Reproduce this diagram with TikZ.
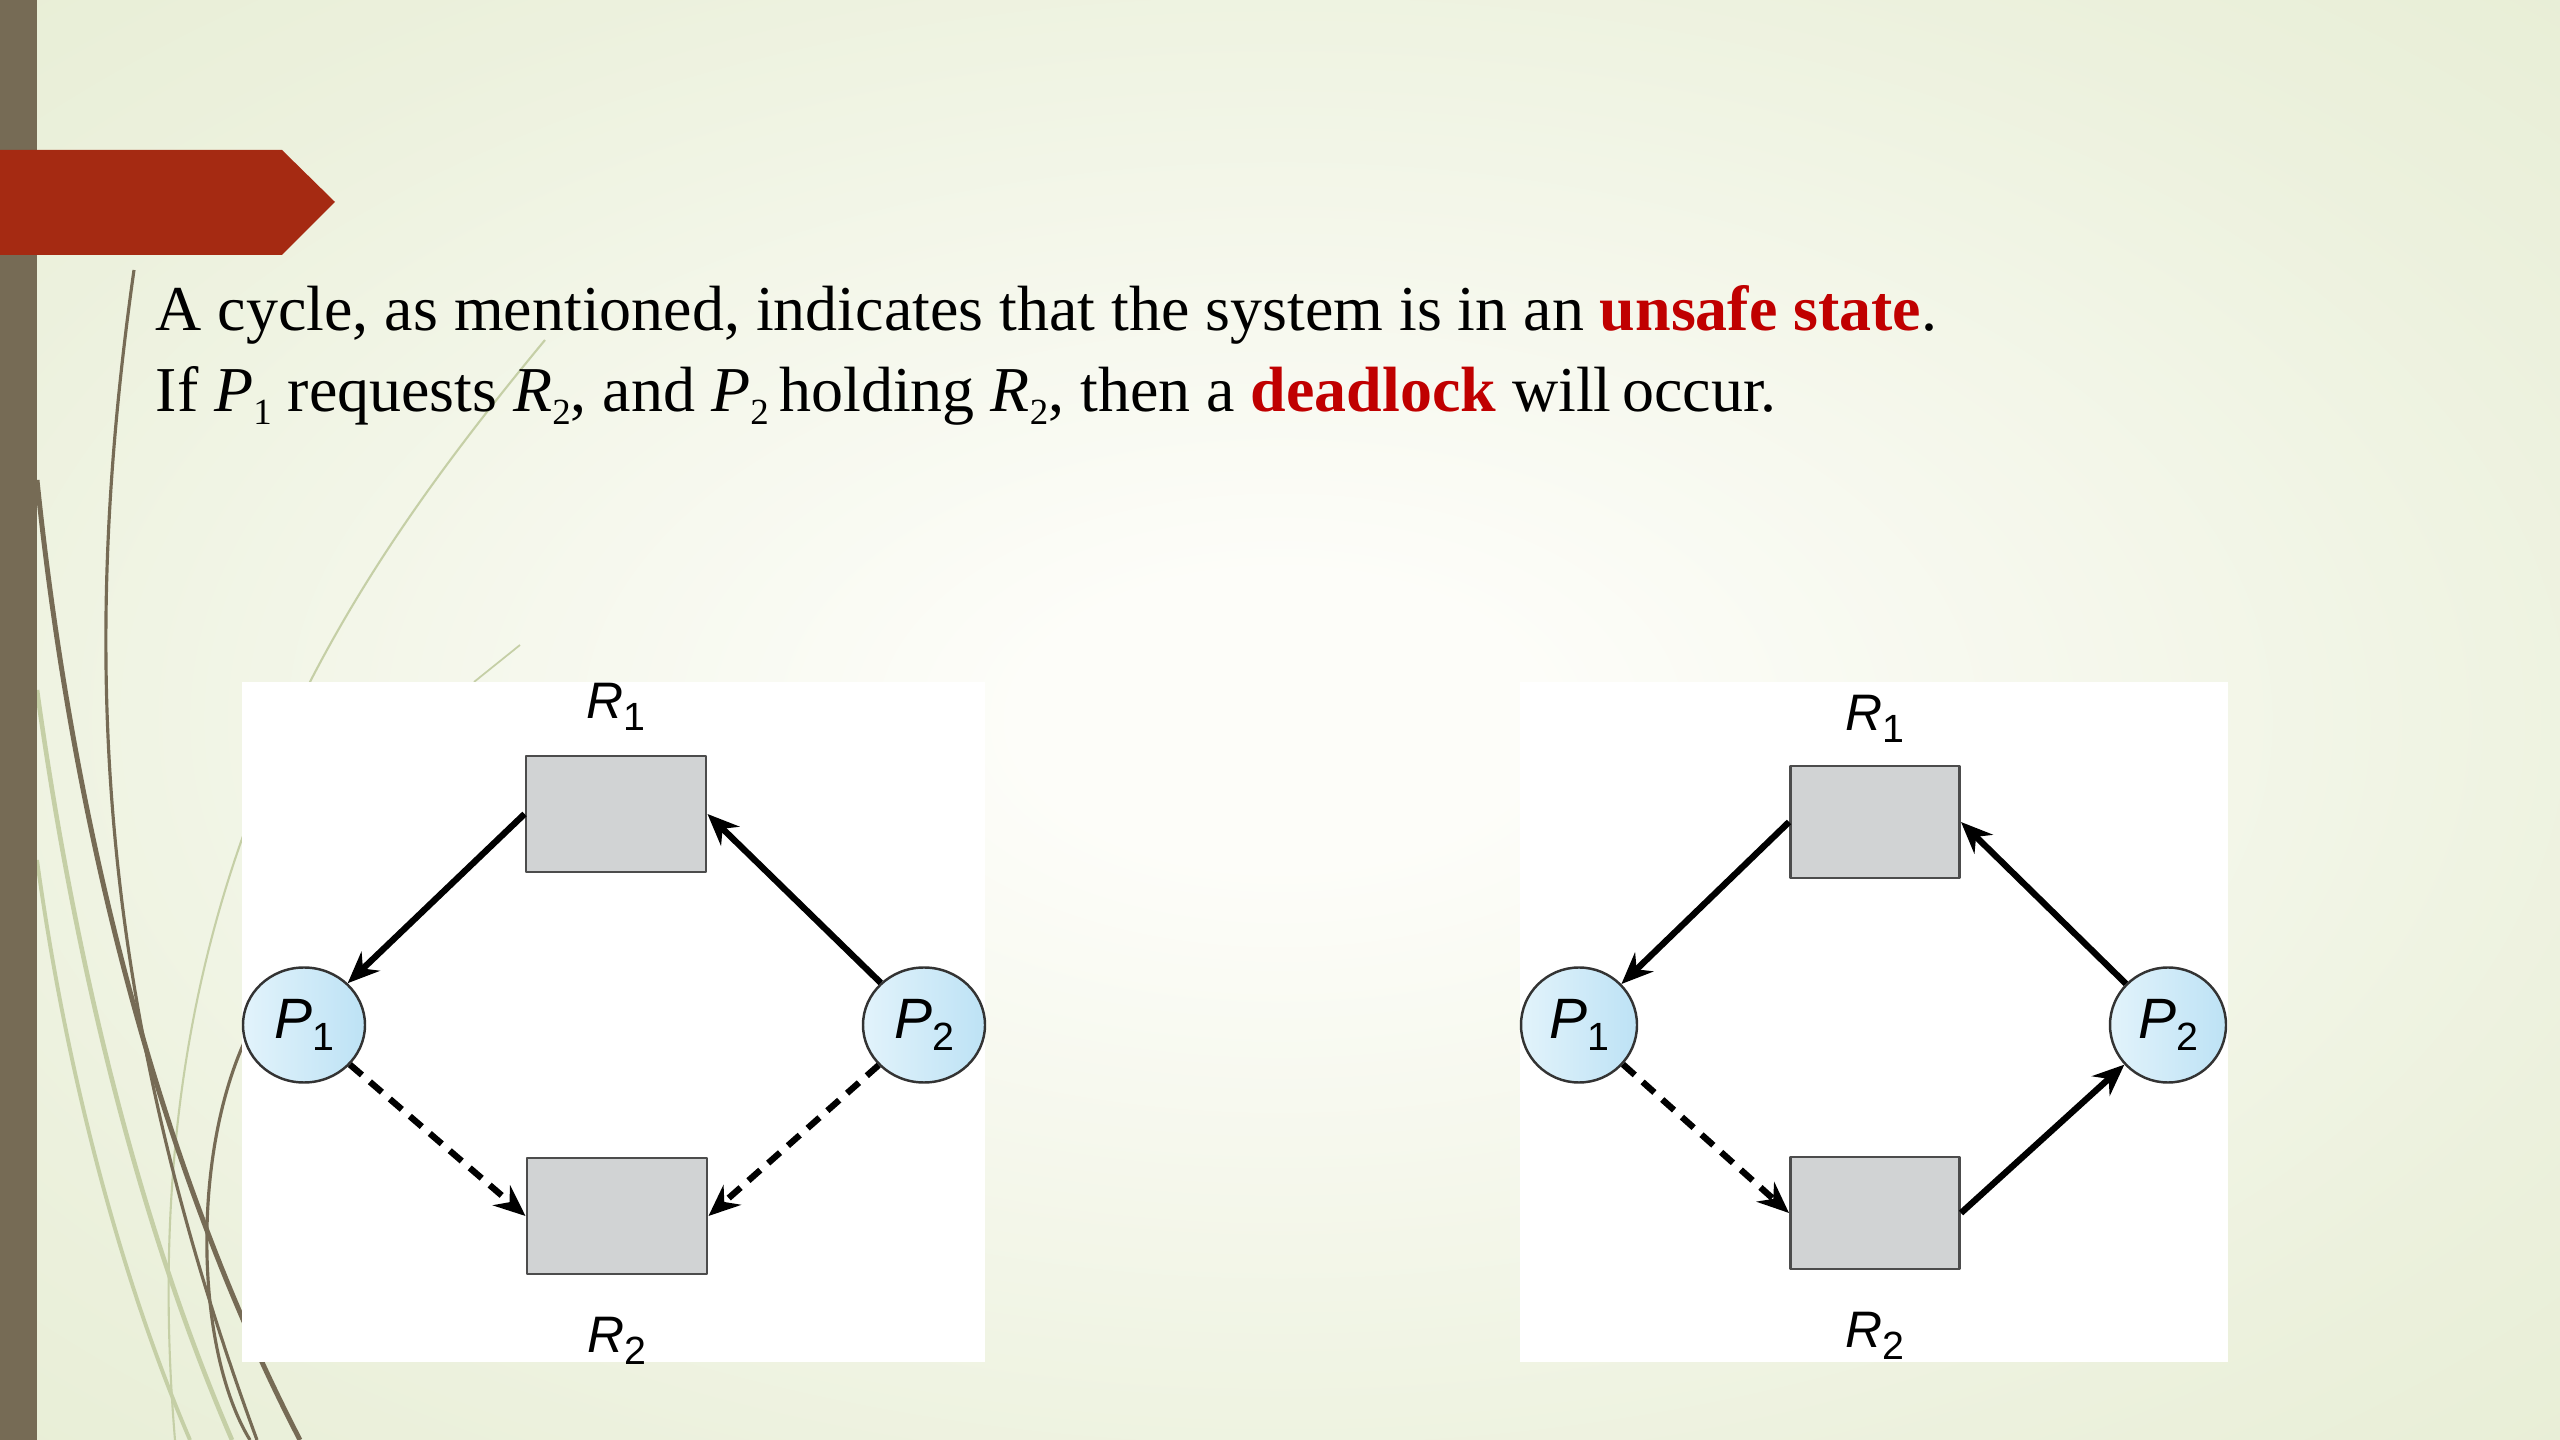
\documentclass[tikz,border=0pt]{standalone}
\usepackage{fontspec}
\setmainfont{Liberation Serif}
\newfontfamily\figfont{Liberation Sans}
\usetikzlibrary{arrows.meta,shapes.geometric}
\definecolor{bgout}{HTML}{DCE5C1}
\definecolor{bgmid}{HTML}{ECF1DD}
\definecolor{bgin}{HTML}{FDFDF9}
\definecolor{wisp}{HTML}{766B55}
\definecolor{wisppale}{HTML}{C5CFA6}
\definecolor{banner}{HTML}{A52A12}
\definecolor{alert}{HTML}{C00000}
\definecolor{resfill}{HTML}{D1D3D4}
\definecolor{procin}{HTML}{E2F3FB}
\definecolor{procout}{HTML}{BDE2F5}
\pgfdeclareradialshading{slidebg}{\pgfpoint{0bp}{0bp}}{color(0bp)=(bgin); color(5bp)=(bgin); color(28bp)=(bgmid); color(60bp)=(bgout); color(80bp)=(bgout)}
\newcommand{\figsub}[2]{{\itshape #1}\raisebox{-3.4pt}{\fontsize{11.2}{11.2}\selectfont #2}}
\newcommand{\txtsub}[2]{\textit{#1}\raisebox{-3.7pt}{\fontsize{10.5}{10.5}\selectfont #2}}
\tikzset{
	res/.style={draw=black!70,fill=resfill,line width=0.85pt,minimum width=1.8cm,minimum height=1.16cm,inner sep=0pt},
	proc/.style={ellipse,draw=black!80,line width=0.7pt,left color=procin,right color=procout,inner sep=0pt,minimum width=1.22cm,minimum height=1.15cm,font=\figfont\fontsize{16.2}{16.2}\selectfont},
	reslbl/.style={anchor=base,inner sep=0pt,font=\figfont\fontsize{14.6}{14.6}\selectfont},
	req/.style={-{Stealth[length=9pt,width=7.5pt,inset=3pt]},line width=1.8pt},
	reqd/.style={req,dash pattern=on 4.5pt off 3pt},
	board/.style={fill=white}
}
\begin{document}
\begin{tikzpicture}[x=0.1mm,y=-0.1mm,line join=round]
		%==slide background
		\useasboundingbox (0,0) rectangle (2560,1440);
		\shade[shading=slidebg] (0,0) rectangle (2560,1440);
		\draw[wisppale,line width=1.3pt] (37,690) .. controls (80,1000) and (150,1250) .. (232,1440);
		\draw[wisppale,line width=1.1pt] (37,860) .. controls (70,1100) and (130,1300) .. (190,1440);
		\draw[wisppale,line width=0.6pt] (545,340) .. controls (330,600) and (130,900) .. (175,1440);
		\draw[wisppale,line width=0.5pt] (474,682) -- (520,645);
		\draw[wisp,line width=0.9pt] (134,270) .. controls (80,650) and (95,1000) .. (257,1440);
		\draw[wisp,line width=1.4pt] (37,480) .. controls (70,800) and (150,1150) .. (300,1440);
		\draw[wisp,line width=0.9pt] (250,1030) .. controls (190,1150) and (195,1350) .. (250,1440);
		\fill[wisp] (0,0) rectangle (37,1440);
		\fill[banner] (0,150)--(282,150)--(335,202)--(282,255)--(0,255)--cycle;
		%==text
		\node[anchor=base west,inner sep=0pt,font=\fontsize{18.2}{22}\selectfont] (line1) at (155,331) {A cycle, as mentioned, indicates that the system is in an \textcolor{alert}{\textbf{unsafe state}}.};
		\node[anchor=base west,inner sep=0pt,font=\fontsize{18.2}{22}\selectfont] (line2) at (155,412) {If \txtsub{P}{1} requests \txtsub{R}{2}, and \txtsub{P}{2}\,holding \txtsub{R}{2}, then a \textcolor{alert}{\textbf{deadlock}} will\,occur.};
		%==left graph
		\fill[board] (242,682) rectangle (985,1362);
		\node[res] (R1a) at (616,814) {};
		\node[res] (R2a) at (617,1216) {};
		\node[proc] (P1a) at (304,1025) {\figsub{P}{1}};
		\node[proc] (P2a) at (924,1025) {\figsub{P}{2}};
		\node[reslbl] (tR1a) at ([yshift=0.36cm]R1a.north) {\figsub{R}{1}};
		\node[reslbl] (tR2a) at ([yshift=-0.77cm]R2a.south) {\figsub{R}{2}};
		\draw[req] (R1a.west)--(P1a);
		\draw[req] (P2a)--(R1a.east);
		\draw[reqd] (P1a)--(R2a.west);
		\draw[reqd] (P2a)--(R2a.east);
		%==right graph
		\fill[board] (1520,682) rectangle (2228,1362);
		\node[res,minimum width=1.69cm,minimum height=1.12cm] (R1b) at (1875,822) {};
		\node[res,minimum width=1.69cm,minimum height=1.12cm] (R2b) at (1875,1213) {};
		\node[proc,minimum width=1.16cm,minimum height=1.15cm] (P1b) at (1579,1025) {\figsub{P}{1}};
		\node[proc,minimum width=1.16cm,minimum height=1.15cm] (P2b) at (2168,1025) {\figsub{P}{2}};
		\node[reslbl] (tR1b) at ([yshift=0.34cm]R1b.north) {\figsub{R}{1}};
		\node[reslbl] (tR2b) at ([yshift=-0.77cm]R2b.south) {\figsub{R}{2}};
		\draw[req] (R1b.west)--(P1b);
		\draw[req] (P2b)--(R1b.east);
		\draw[reqd] (P1b)--(R2b.west);
		\draw[req] (R2b.east)--(P2b);
\end{tikzpicture}
\end{document}
